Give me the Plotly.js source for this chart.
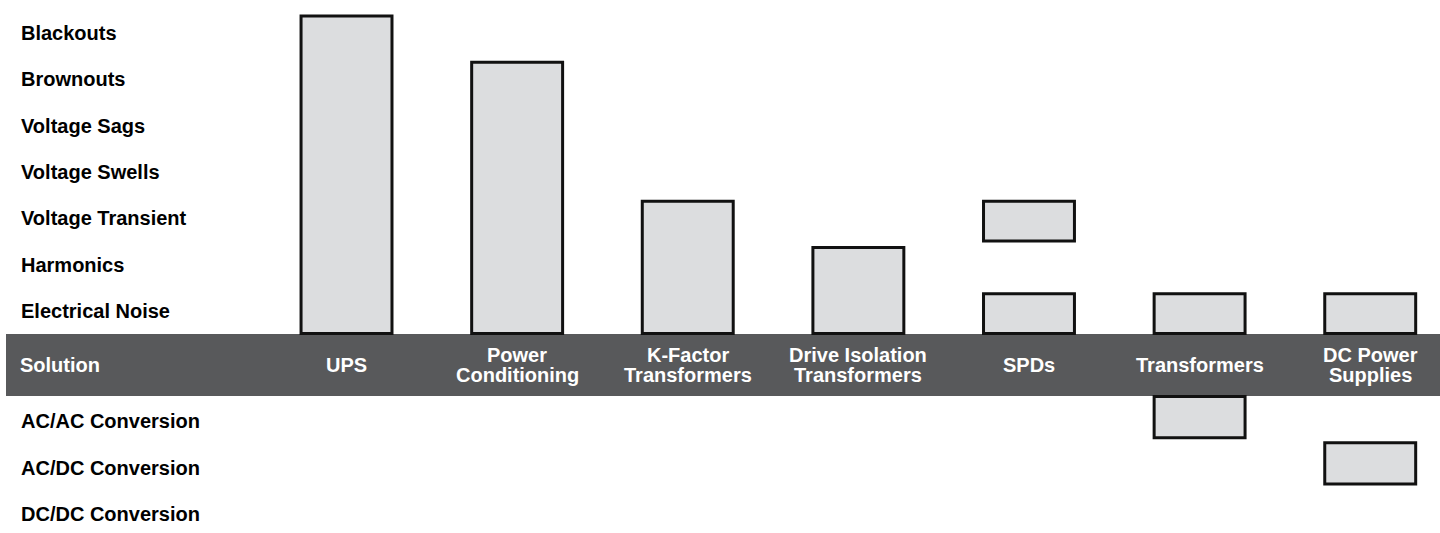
<!DOCTYPE html>
<html>
<head>
<meta charset="utf-8">
<script src="https://cdn.plot.ly/plotly-3.0.1.min.js"></script>
<style>html,body{margin:0;padding:0;background:#fff}#chart{width:1440px;height:533px}</style>
</head>
<body>
<div id="chart"></div>
<script>
// ---- data ----
const problems = ["Blackouts", "Brownouts", "Voltage Sags", "Voltage Swells", "Voltage Transient", "Harmonics", "Electrical Noise"];
const conversions = ["AC/AC Conversion", "AC/DC Conversion", "DC/DC Conversion"];
const solutions = ["UPS", "Power<br>Conditioning", "K-Factor<br>Transformers", "Drive Isolation<br>Transformers", "SPDs", "Transformers", "DC Power<br>Supplies"];
const bandTitle = "Solution";
// 1 = the solution addresses that problem (rows in the order of `problems`)
const problemFlags = [
  [1, 1, 1, 1, 1, 1, 1],
  [0, 1, 1, 1, 1, 1, 1],
  [0, 0, 0, 0, 1, 1, 1],
  [0, 0, 0, 0, 0, 1, 1],
  [0, 0, 0, 0, 1, 0, 1],
  [0, 0, 0, 0, 0, 0, 1],
  [0, 0, 0, 0, 0, 0, 1]
];
// 1 = the solution performs that conversion (rows in the order of `conversions`)
const conversionFlags = [
  [0, 0, 0],
  [0, 0, 0],
  [0, 0, 0],
  [0, 0, 0],
  [0, 0, 0],
  [1, 0, 0],
  [0, 1, 0]
];

// ---- geometry (row units) ----
const BAND = 1.339;          // band height in row units
const B = -BAND;             // band bottom
const nP = problems.length;

function runs(flags) {
  const out = []; let s = -1;
  for (let i = 0; i <= flags.length; i++) {
    if (i < flags.length && flags[i]) { if (s < 0) s = i; }
    else if (s >= 0) { out.push([s, i - 1]); s = -1; }
  }
  return out;
}

const upX = [], upY = [], upBase = [];
const loX = [], loY = [], loBase = [];
solutions.forEach((sol, si) => {
  runs(problemFlags[si]).forEach(([r1, r2]) => {
    const a = nP - 1 - r2, b = nP - 1 - r1;
    const base = a + 0.01, top = b + 0.87;
    upX.push(sol); upBase.push(base); upY.push(top - base);
  });
  runs(conversionFlags[si]).forEach(([m1, m2]) => {
    const top = B - m1 - 0.01, bot = B - m2 - 0.9;
    loX.push(sol); loBase.push(bot); loY.push(top - bot);
  });
});

const barStyle = {color: "#dcdddf", line: {color: "#111111", width: 3}};
const traces = [
  {type: "bar", x: upX, y: upY, base: upBase, width: 0.533, marker: barStyle, hoverinfo: "skip", showlegend: false},
  {type: "bar", x: loX, y: loY, base: loBase, width: 0.533, marker: barStyle, hoverinfo: "skip", showlegend: false}
];

const FONT = "'Liberation Sans', Arial, sans-serif";
const FS = 20;
const annotations = [];
problems.forEach((p, r) => {
  annotations.push({xref: "paper", x: 19 / 1440, xanchor: "left", yref: "y", y: nP - 1 - r + 0.5, yanchor: "middle",
    text: "<b>" + p + "</b>", showarrow: false, font: {family: FONT, size: FS, color: "#000"}});
});
conversions.forEach((c, m) => {
  annotations.push({xref: "paper", x: 19 / 1440, xanchor: "left", yref: "y", y: B - m - 0.55, yanchor: "middle",
    text: "<b>" + c + "</b>", showarrow: false, font: {family: FONT, size: FS, color: "#000"}});
});
annotations.push({xref: "paper", x: 18 / 1440, xanchor: "left", yref: "y", y: B / 2, yanchor: "middle",
  text: "<b>" + bandTitle + "</b>", showarrow: false, font: {family: FONT, size: FS, color: "#fff"}});
solutions.forEach((s) => {
  const lines = s.split("<br>");
  lines.forEach((ln, li) => {
    const shift = (lines.length - 1) * 10 - li * 20;
    annotations.push({xref: "x", x: s, xanchor: "center", yref: "y", y: B / 2, yanchor: "middle", yshift: shift,
      text: "<b>" + ln + "</b>", showarrow: false, font: {family: FONT, size: FS, color: "#fff"}});
  });
});

const layout = {
  width: 1440, height: 533,
  margin: {l: 0, r: 0, t: 0, b: 0},
  paper_bgcolor: "#ffffff", plot_bgcolor: "#ffffff",
  barmode: "overlay",
  showlegend: false,
  xaxis: {type: "category", categoryorder: "array", categoryarray: solutions, range: [-2.031, 6.409],
    showticklabels: false, showgrid: false, zeroline: false, showline: false, ticks: ""},
  yaxis: {range: [-4.298, 7.214], showticklabels: false, showgrid: false, zeroline: false, showline: false, ticks: ""},
  shapes: [{type: "rect", layer: "below", xref: "paper", x0: 6 / 1440, x1: 1, yref: "y", y0: B, y1: 0,
    fillcolor: "#58595b", line: {width: 0}}],
  annotations: annotations
};

Plotly.newPlot("chart", traces, layout, {staticPlot: true, displayModeBar: false});
</script>
</body>
</html>
